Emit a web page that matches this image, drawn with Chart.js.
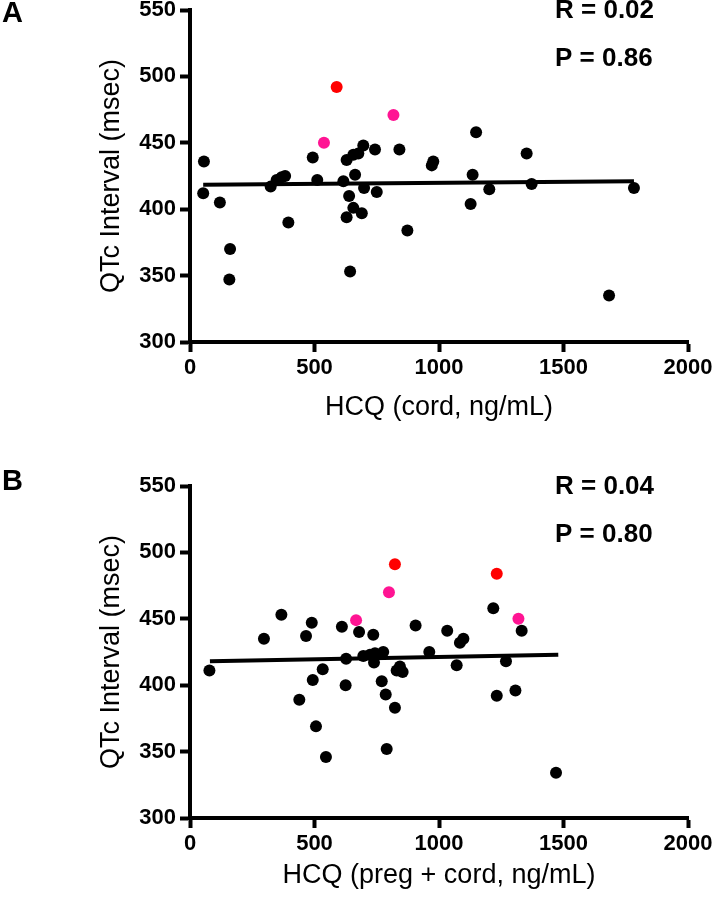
<!DOCTYPE html>
<html>
<head>
<meta charset="utf-8">
<title>QTc vs HCQ</title>
<script src="https://cdn.jsdelivr.net/npm/chart.js@4.4.1/dist/chart.umd.min.js"></script>
<style>
    body { margin: 0; background: #fff; }
    canvas { position: absolute; left: 0; }
</style>
</head>
<body>
<canvas id="chartA" width="717" height="450" style="top: 0"></canvas>
<canvas id="chartB" width="717" height="450" style="top: 450px"></canvas>
<script>
// Panel A - cord HCQ
const cordX = [56, 53, 120, 161, 158, 324, 348, 368, 382, 395, 493, 511, 616, 629, 656, 676, 696, 743, 663, 699,
    750, 639, 656, 690, 629, 643, 841, 873, 977, 971, 1149, 1135, 1127, 1202, 1352, 1372, 1783, 1683]
const cordY = [436, 412, 405, 370, 347, 417, 422, 424, 425, 390, 439, 422, 421, 437, 441, 442, 448, 445, 426, 416,
    413, 410, 401, 397, 394, 353, 445, 384, 436, 433, 458, 426, 404, 415, 442, 419, 416, 335]
const cordRedX = [589]
const cordRedY = [492]
const cordPinkX = [538, 817]
const cordPinkY = [450, 471]
const cordFitX = [53, 1783]
const cordFitY = [418.5, 421]

// Panel B - preg + cord HCQ
const bothX = [78, 297, 367, 439, 489, 466, 493, 533, 506, 546, 610, 627, 625, 679, 736, 696, 723, 743, 776, 739,
    770, 786, 823, 790, 830, 854, 843, 906, 961, 1033, 1084, 1098, 1071, 1218, 1332, 1269, 1232, 1307, 1470]
const bothY = [411, 435, 453, 389, 447, 437, 404, 412, 369, 346, 444, 420, 400, 440, 438, 422, 423, 424, 425, 417,
    403, 393, 383, 352, 411, 410, 414, 445, 425, 441, 432, 435, 415, 458, 441, 418, 392, 396, 334]
const bothRedX = [823, 1232]
const bothRedY = [491, 484]
const bothPinkX = [667, 799, 1319]
const bothPinkY = [449, 470, 450]
const bothFitX = [80, 1479]
const bothFitY = [418, 423]

const xTicks = [0, 500, 1000, 1500, 2000]
const yTicks = [300, 350, 400, 450, 500, 550]

const FONT = '"Liberation Sans", Arial, sans-serif'

const toPoints = (xs, ys) => xs.map((x, i) => ({ x, y: ys[i] }))

// draws the R / P notes and the panel letter
const notesPlugin = {
    id: "notes",
    afterDraw(chart, args, opts) {
        const { ctx, scales: { x, y } } = chart
        ctx.save()
        ctx.fillStyle = "#000"
        ctx.textBaseline = "middle"
        ctx.textAlign = "left"
        ctx.font = "bold 26px " + FONT
        opts.lines.forEach((line, i) => {
            ctx.fillText(line, x.getPixelForValue(opts.x), y.getPixelForValue(opts.y[i]))
        })
        ctx.font = "bold 29px " + FONT
        ctx.fillText(opts.panel, 2, opts.panelY)
        ctx.restore()
    }
}

function makeChart(id, cfg) {
    const axisLine = { display: true, width: 4, color: "#000" }
    const tickMarks = { display: true, drawOnChartArea: false, drawTicks: true, tickLength: 10, tickWidth: 4, tickColor: "#000" }
    const tickFont = { family: FONT, size: 22, weight: "bold" }
    const titleFont = { family: FONT, size: 27, weight: "normal" }

    return new Chart(document.getElementById(id), {
        type: "scatter",
        data: {
            datasets: [
                { data: toPoints(cfg.fitX, cfg.fitY), showLine: true, borderColor: "#000", borderWidth: 4, pointRadius: 0 },
                { data: toPoints(cfg.x, cfg.y), backgroundColor: "#000", pointRadius: 6, pointBorderWidth: 0 },
                { data: toPoints(cfg.pinkX, cfg.pinkY), backgroundColor: "#ff1493", pointRadius: 6, pointBorderWidth: 0 },
                { data: toPoints(cfg.redX, cfg.redY), backgroundColor: "#ff0000", pointRadius: 6, pointBorderWidth: 0 }
            ]
        },
        options: {
            responsive: false,
            animation: false,
            devicePixelRatio: 1,
            layout: { padding: { left: 0, right: 29, top: cfg.padTop, bottom: 0 } },
            plugins: {
                legend: { display: false },
                tooltip: { enabled: false },
                notes: { lines: cfg.notes, x: 1466, y: [549, 513], panel: cfg.panel, panelY: cfg.panelY }
            },
            scales: {
                x: {
                    type: "linear",
                    min: 0,
                    max: 2000,
                    afterBuildTicks: scale => { scale.ticks = xTicks.map(value => ({ value })) },
                    afterFit: scale => {
                        scale.height = cfg.xAxisHeight
                        scale.paddingLeft = 0
                        scale.paddingRight = 0
                    },
                    border: axisLine,
                    grid: tickMarks,
                    ticks: { color: "#000", font: tickFont, padding: 3, maxRotation: 0, callback: v => String(v) },
                    title: { display: true, text: cfg.xTitle, color: "#000", font: titleFont, padding: { top: 0, bottom: cfg.xTitlePad } }
                },
                y: {
                    type: "linear",
                    min: 300,
                    max: 550,
                    afterBuildTicks: scale => { scale.ticks = yTicks.map(value => ({ value })) },
                    afterFit: scale => {
                        scale.width = 190
                        scale.paddingTop = 0
                        scale.paddingBottom = 0
                    },
                    border: axisLine,
                    grid: tickMarks,
                    ticks: { color: "#000", font: tickFont, padding: 4, callback: v => String(v) },
                    title: { display: true, text: "QTc Interval (msec)", color: "#000", font: titleFont, padding: { top: 95, bottom: 0 } }
                }
            }
        },
        plugins: [notesPlugin]
    })
}

makeChart("chartA", {
    x: cordX, y: cordY, redX: cordRedX, redY: cordRedY, pinkX: cordPinkX, pinkY: cordPinkY,
    fitX: cordFitX, fitY: cordFitY,
    padTop: 10, xAxisHeight: 108, xTitlePad: 26,
    xTitle: "HCQ (cord, ng/mL)", notes: ["R = 0.02", "P = 0.86"], panel: "A", panelY: 14
})

makeChart("chartB", {
    x: bothX, y: bothY, redX: bothRedX, redY: bothRedY, pinkX: bothPinkX, pinkY: bothPinkY,
    fitX: bothFitX, fitY: bothFitY,
    padTop: 36, xAxisHeight: 82, xTitlePad: 8,
    xTitle: "HCQ (preg + cord, ng/mL)", notes: ["R = 0.04", "P = 0.80"], panel: "B", panelY: 32
})
</script>
</body>
</html>
